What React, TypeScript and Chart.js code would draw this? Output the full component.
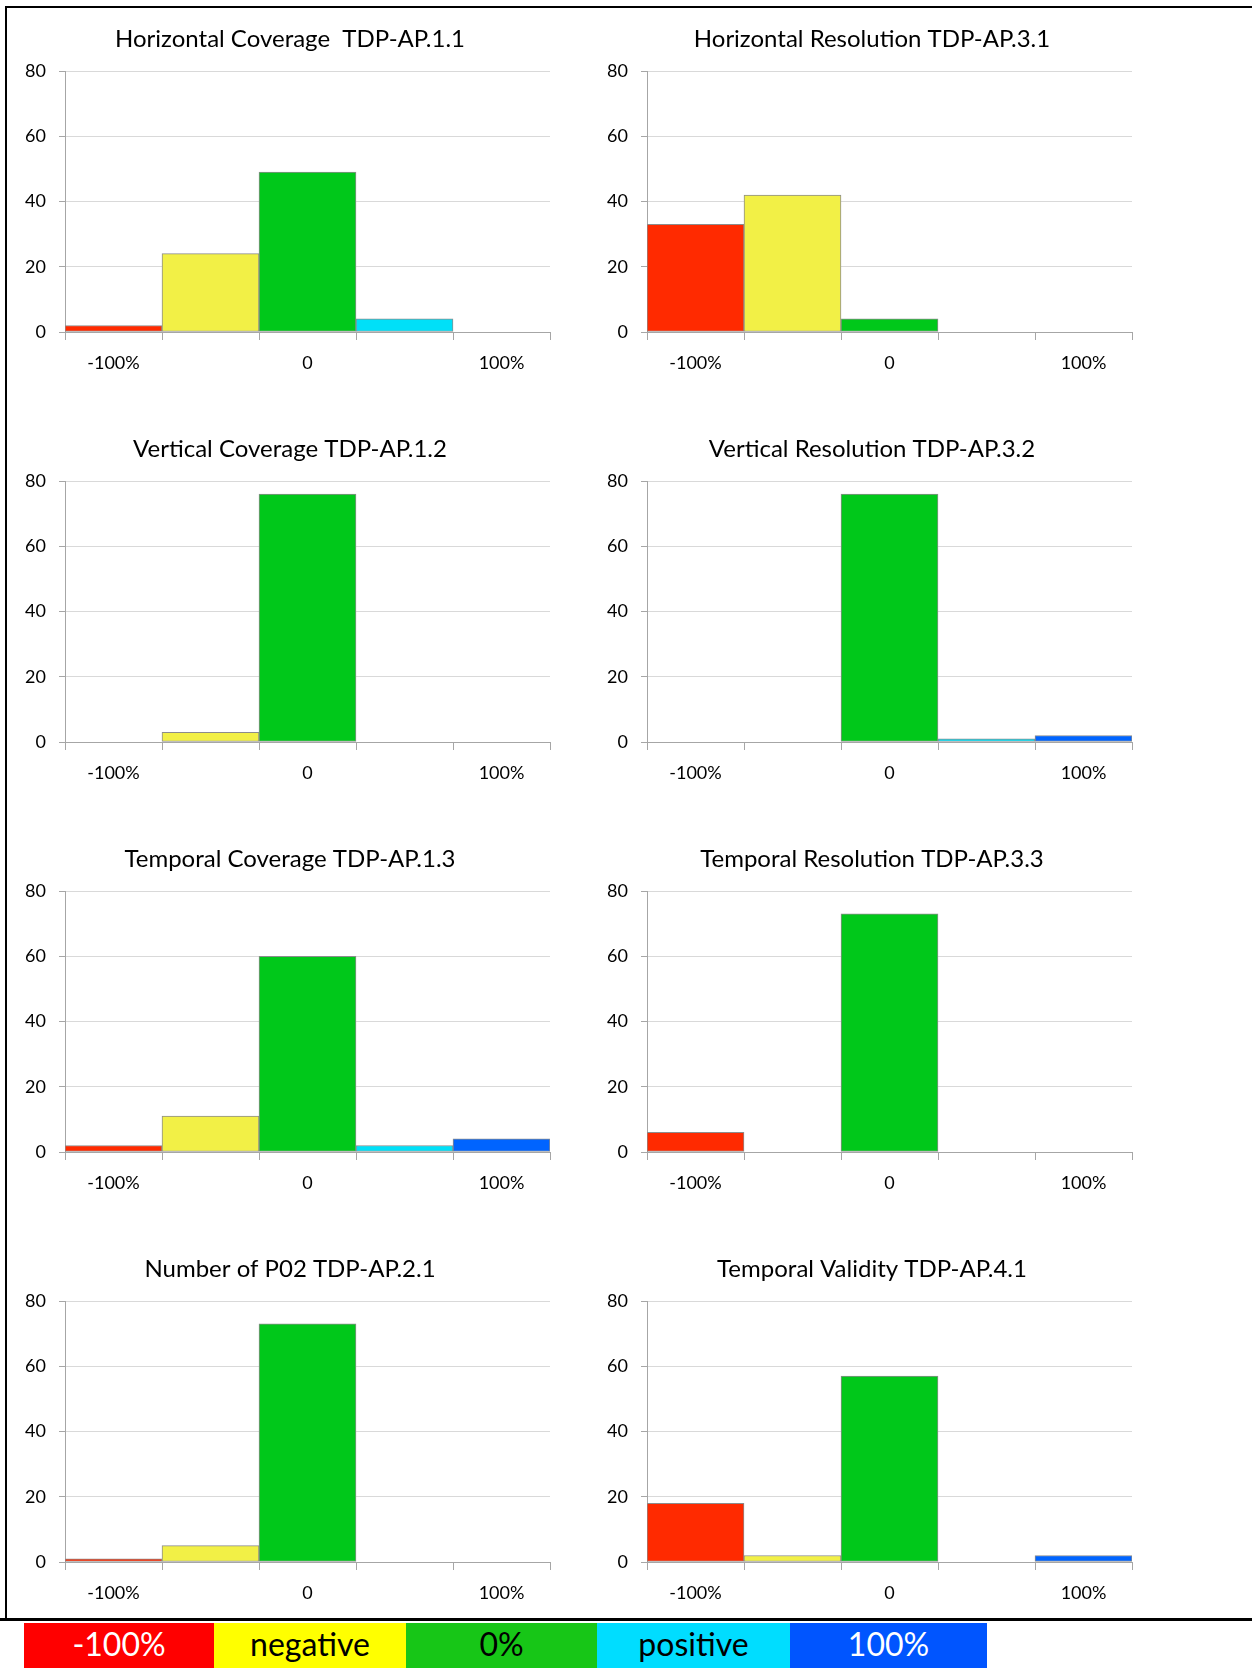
import React, { useEffect, useRef } from 'react';
import { Chart, registerables } from 'chart.js';

Chart.register(...registerables);

// ---- data ----
const categories = ['-100%', 'negative', '0%', 'positive', '100%'];
const tickLabels = ['-100%', '', '0', '', '100%'];

const titles = [
  'Horizontal Coverage  TDP-AP.1.1',
  'Horizontal Resolution TDP-AP.3.1',
  'Vertical Coverage TDP-AP.1.2',
  'Vertical Resolution TDP-AP.3.2',
  'Temporal Coverage TDP-AP.1.3',
  'Temporal Resolution TDP-AP.3.3',
  'Number of P02 TDP-AP.2.1',
  'Temporal Validity TDP-AP.4.1',
];

const horizontalCoverage = [2, 24, 49, 4, 0];
const horizontalResolution = [33, 42, 4, 0, 0];
const verticalCoverage = [0, 3, 76, 0, 0];
const verticalResolution = [0, 0, 76, 1, 2];
const temporalCoverage = [2, 11, 60, 2, 4];
const temporalResolution = [6, 0, 73, 0, 0];
const numberOfP02 = [1, 5, 73, 0, 0];
const temporalValidity = [18, 2, 57, 0, 2];

const panelValues = [
  horizontalCoverage,
  horizontalResolution,
  verticalCoverage,
  verticalResolution,
  temporalCoverage,
  temporalResolution,
  numberOfP02,
  temporalValidity,
];

const yMin = 0;
const yMax = 80;
const yStep = 20;

const barColors = ['#FF2A00', '#F2F046', '#00C81A', '#00E0F8', '#0064FF'];
const legendColors = ['#FF0000', '#FFFF00', '#17C617', '#00DDFF', '#0055FF'];
const legendTextColors = ['#FFFFFF', '#000000', '#000000', '#000000', '#FFFFFF'];
const legendEdges = [24, 214, 406, 597, 790, 987];

const FONT = 'Lato, "Open Sans", "DejaVu Sans", sans-serif';

function BarPanel({ title, values, left, top }: { title: string; values: number[]; left: number; top: number }) {
  const ref = useRef<HTMLCanvasElement>(null);
  useEffect(() => {
    const chart = new Chart(ref.current as HTMLCanvasElement, {
      type: 'bar',
      data: {
        labels: tickLabels,
        datasets: [
          {
            label: title,
            data: values,
            backgroundColor: barColors,
            borderColor: '#8c8c8c',
            borderWidth: 1,
            borderSkipped: false,
            categoryPercentage: 1,
            barPercentage: 1,
          } as any,
        ],
      },
      options: {
        animation: false,
        responsive: false,
        maintainAspectRatio: false,
        layout: { padding: { left: 0, right: 0, top: 0, bottom: 0 } },
        plugins: {
          legend: { display: false },
          tooltip: { enabled: false },
          title: {
            display: true,
            text: title,
            color: '#000',
            font: { family: FONT, size: 24, weight: 'normal', lineHeight: 1.2 },
            padding: { top: 25, bottom: 17.2 },
          },
        },
        scales: {
          x: {
            grid: {
              offset: true,
              drawOnChartArea: false,
              drawTicks: true,
              tickLength: 8,
              tickColor: '#a6a6a6',
            },
            border: { color: '#a6a6a6', width: 1 },
            ticks: {
              autoSkip: false,
              maxRotation: 0,
              color: '#000',
              font: { family: FONT, size: 18 },
              padding: 12,
            },
            afterFit: (s: any) => {
              s.height = 58;
            },
          },
          y: {
            min: yMin,
            max: yMax,
            ticks: {
              stepSize: yStep,
              color: '#000',
              font: { family: FONT, size: 18 },
              padding: 13,
            },
            grid: { color: '#d9d9d9', tickColor: '#a6a6a6', tickLength: 6 },
            border: { color: '#a6a6a6', width: 1 },
            afterFit: (s: any) => {
              s.width = 55;
            },
          },
          spacer: {
            type: 'linear',
            position: 'right',
            min: yMin,
            max: yMax,
            display: true,
            grid: { display: false, drawTicks: false },
            border: { display: false },
            ticks: { display: false },
            afterFit: (s: any) => {
              s.width = 20;
            },
          },
        },
      } as any,
    });
    return () => chart.destroy();
  }, [title, values]);
  return (
    <canvas
      ref={ref}
      width={560}
      height={390}
      style={{ position: 'absolute', left, top, width: 560, height: 390 }}
    />
  );
}

export default function App() {
  return (
    <div
      style={{
        position: 'absolute',
        left: 0,
        top: 0,
        width: 1252,
        height: 1670,
        background: '#fff',
        overflow: 'hidden',
        fontFamily: FONT,
      }}
    >
      {/* frame lines */}
      <div style={{ position: 'absolute', left: 5, top: 6, width: 1247, height: 2, background: '#000' }} />
      <div style={{ position: 'absolute', left: 5, top: 6, width: 2, height: 1614, background: '#000' }} />
      <div style={{ position: 'absolute', left: 0, top: 1618, width: 1252, height: 3, background: '#000' }} />

      {panelValues.map((vals, i) => (
        <BarPanel
          key={i}
          title={titles[i]}
          values={vals}
          left={i % 2 === 0 ? 10 : 592}
          top={Math.floor(i / 2) * 410}
        />
      ))}

      {/* legend */}
      {categories.map((c, i) => (
        <div
          key={c}
          style={{
            position: 'absolute',
            left: legendEdges[i],
            top: 1623,
            width: legendEdges[i + 1] - legendEdges[i],
            height: 45,
            lineHeight: '41px',
            background: legendColors[i],
            color: legendTextColors[i],
            fontSize: 32,
            textAlign: 'center',
            fontFamily: FONT,
          }}
        >
          {c}
        </div>
      ))}
    </div>
  );
}
